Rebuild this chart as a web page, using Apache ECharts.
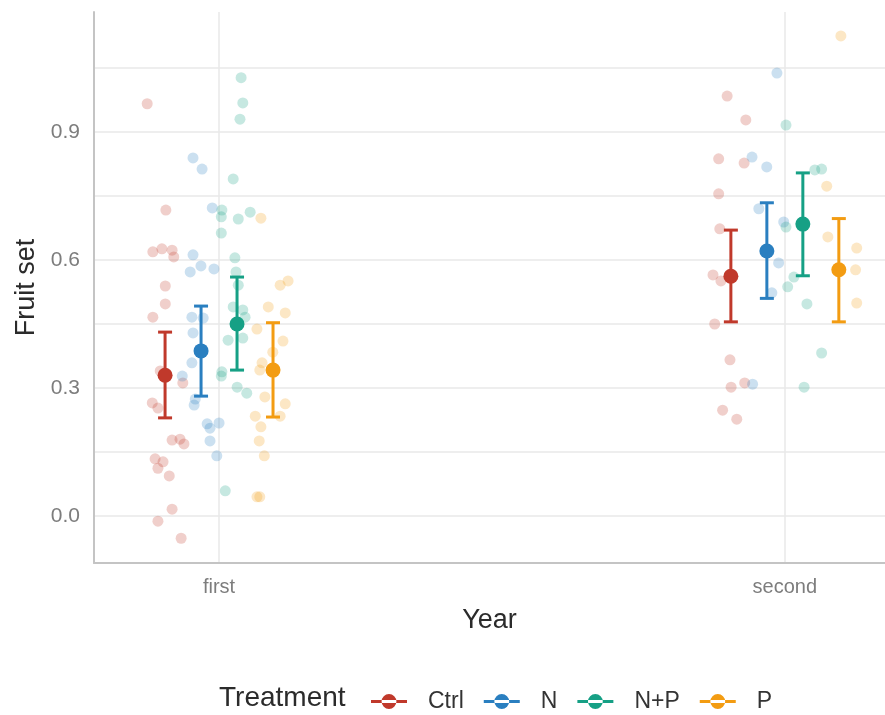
<!DOCTYPE html>
<html>
<head>
<meta charset="utf-8">
<script src="https://cdn.jsdelivr.net/npm/echarts@6/dist/echarts.min.js"></script>
<style>
  html, body { margin: 0; padding: 0; background: #ffffff; }
  #chart { width: 885px; height: 715px; }
</style>
</head>
<body>
<div id="chart"></div>
<script>
// Year categories sit at x = 1 and x = 2 on a numeric axis so that jittered
// observations and dodged treatment summaries can share one scale.
const years = ['first', 'second'];
const treatments = ['Ctrl', 'N', 'N+P', 'P'];
const colors = ['#C0392B', '#2A7FC0', '#16A085', '#F39C12'];

// Raw fruit-set observations per treatment and year, with horizontal jitter
// (offset from the year's centre, in axis units).
const ctrlFirst = [0.966, 0.717, 0.619, 0.626, 0.623, 0.607, 0.539, 0.497, 0.466, 0.340, 0.312, 0.265, 0.253, 0.178, 0.180, 0.169, 0.134, 0.127, 0.112, 0.094, 0.016, -0.012, -0.052];
const ctrlFirstJit = [-0.127, -0.094, -0.117, -0.101, -0.083, -0.080, -0.095, -0.095, -0.117, -0.104, -0.064, -0.118, -0.108, -0.083, -0.069, -0.062, -0.113, -0.099, -0.108, -0.088, -0.083, -0.108, -0.067];
const nFirst = [0.839, 0.813, 0.722, 0.612, 0.586, 0.572, 0.579, 0.466, 0.464, 0.429, 0.359, 0.328, 0.274, 0.260, 0.216, 0.218, 0.206, 0.176, 0.141];
const nFirstJit = [-0.046, -0.030, -0.012, -0.046, -0.032, -0.051, -0.009, -0.048, -0.028, -0.046, -0.048, -0.065, -0.042, -0.044, -0.021, 0.000, -0.016, -0.016, -0.004];
const npFirst = [1.027, 0.968, 0.930, 0.790, 0.717, 0.701, 0.696, 0.712, 0.663, 0.605, 0.572, 0.541, 0.483, 0.466, 0.490, 0.412, 0.417, 0.338, 0.328, 0.302, 0.288, 0.059];
const npFirstJit = [0.039, 0.042, 0.037, 0.025, 0.005, 0.004, 0.034, 0.055, 0.004, 0.028, 0.030, 0.034, 0.042, 0.046, 0.025, 0.016, 0.042, 0.005, 0.004, 0.032, 0.049, 0.011];
const pFirst = [0.698, 0.551, 0.541, 0.490, 0.476, 0.438, 0.410, 0.384, 0.359, 0.342, 0.279, 0.263, 0.234, 0.234, 0.209, 0.176, 0.141, 0.045, 0.045];
const pFirstJit = [0.074, 0.122, 0.108, 0.087, 0.117, 0.067, 0.113, 0.095, 0.076, 0.072, 0.081, 0.117, 0.064, 0.108, 0.074, 0.071, 0.080, 0.067, 0.072];

const ctrlSecond = [0.984, 0.928, 0.837, 0.827, 0.755, 0.673, 0.565, 0.551, 0.450, 0.366, 0.312, 0.302, 0.248, 0.227];
const ctrlSecondJit = [-0.102, -0.069, -0.117, -0.072, -0.117, -0.115, -0.127, -0.113, -0.124, -0.097, -0.071, -0.095, -0.110, -0.085];
const nSecond = [1.038, 0.841, 0.818, 0.720, 0.689, 0.593, 0.523, 0.309];
const nSecondJit = [-0.014, -0.058, -0.032, -0.046, -0.002, -0.011, -0.023, -0.057];
const npSecond = [0.916, 0.811, 0.813, 0.677, 0.560, 0.537, 0.497, 0.382, 0.302];
const npSecondJit = [0.002, 0.053, 0.065, 0.002, 0.016, 0.005, 0.039, 0.065, 0.034];
const pSecond = [1.125, 0.773, 0.654, 0.628, 0.577, 0.499];
const pSecondJit = [0.099, 0.074, 0.076, 0.127, 0.125, 0.127];

// Treatment means with lower / upper error-bar limits, per year.
const meanFirst = [0.330, 0.387, 0.450, 0.342];
const lowFirst = [0.230, 0.281, 0.342, 0.232];
const highFirst = [0.431, 0.492, 0.560, 0.453];
const meanSecond = [0.562, 0.621, 0.684, 0.577];
const lowSecond = [0.455, 0.510, 0.563, 0.455];
const highSecond = [0.670, 0.734, 0.804, 0.697];

const yTicks = [0, 0.3, 0.6, 0.9];
const yGrid = [0, 0.15, 0.3, 0.45, 0.6, 0.75, 0.9, 1.05];

// Horizontal dodge of the four treatment summaries around each year.
const dodge = [-0.0954, -0.0318, 0.0318, 0.0954];

const raw = [
  [[ctrlFirst, ctrlFirstJit], [ctrlSecond, ctrlSecondJit]],
  [[nFirst, nFirstJit], [nSecond, nSecondJit]],
  [[npFirst, npFirstJit], [npSecond, npSecondJit]],
  [[pFirst, pFirstJit], [pSecond, pSecondJit]]
];
const summaries = [
  [meanFirst, lowFirst, highFirst],
  [meanSecond, lowSecond, highSecond]
];

function withAlpha(hex, a) {
  const n = parseInt(hex.slice(1), 16);
  return 'rgba(' + (n >> 16) + ',' + ((n >> 8) & 255) + ',' + (n & 255) + ',' + a + ')';
}

const series = [];

// Jittered observations, drawn underneath.
treatments.forEach(function (t, i) {
  const pts = [];
  raw[i].forEach(function (pair, yi) {
    const vals = pair[0], jit = pair[1];
    vals.forEach(function (v, k) { pts.push([yi + 1 + jit[k], v]); });
  });
  series.push({
    name: t + ' obs',
    type: 'scatter',
    data: pts,
    symbolSize: 11,
    itemStyle: { color: withAlpha(colors[i], 0.3) },
    z: 2,
    silent: true
  });
});

// Mean point with error bar, dodged by treatment.
treatments.forEach(function (t, i) {
  const data = summaries.map(function (s, yi) {
    return [yi + 1 + dodge[i], s[0][i], s[1][i], s[2][i]];
  });
  const col = colors[i];
  series.push({
    name: t,
    type: 'custom',
    data: data,
    encode: { x: 0, y: [1, 2, 3] },
    itemStyle: { color: col },
    z: 5,
    renderItem: function (params, api) {
      const x = api.value(0);
      const pm = api.coord([x, api.value(1)]);
      const pl = api.coord([x, api.value(2)]);
      const ph = api.coord([x, api.value(3)]);
      const hw = 7;
      const st = { stroke: col, lineWidth: 3, fill: null };
      return {
        type: 'group',
        children: [
          { type: 'line', shape: { x1: pl[0], y1: pl[1], x2: ph[0], y2: ph[1] }, style: st },
          { type: 'line', shape: { x1: pl[0] - hw, y1: pl[1], x2: pl[0] + hw, y2: pl[1] }, style: st },
          { type: 'line', shape: { x1: ph[0] - hw, y1: ph[1], x2: ph[0] + hw, y2: ph[1] }, style: st },
          { type: 'circle', shape: { cx: pm[0], cy: pm[1], r: 7.5 }, style: { fill: col } }
        ]
      };
    }
  });
});

const legendIcon = 'path://M0,6.2h34v2.6h-34z M10,7.5a7,7 0 1,0 14,0a7,7 0 1,0 -14,0z';

const chart = echarts.init(document.getElementById('chart'), null, { renderer: 'canvas' });
chart.setOption({
  backgroundColor: '#ffffff',
  animation: false,
  textStyle: { fontFamily: 'Liberation Sans, Arial, sans-serif' },
  grid: { left: 94, right: 0, top: 12, bottom: 152, containLabel: false },
  xAxis: {
    type: 'value',
    min: 0.779,
    max: 2.177,
    name: 'Year',
    nameLocation: 'middle',
    nameGap: 44,
    nameTextStyle: { fontSize: 27, color: '#2b2b2b' },
    axisLine: { show: true, onZero: false, lineStyle: { color: '#c4c4c4', width: 2 } },
    axisTick: { show: false, customValues: [1, 2] },
    axisLabel: {
      customValues: [1, 2],
      formatter: function (v) { return years[Math.round(v) - 1]; },
      fontSize: 20,
      color: '#7d7d7d',
      margin: 14
    },
    splitLine: { show: true, lineStyle: { color: '#e8e8e8', width: 1.5 } }
  },
  yAxis: {
    type: 'value',
    min: -0.110,
    max: 1.181,
    name: 'Fruit set',
    nameLocation: 'middle',
    nameGap: 54,
    nameTextStyle: { fontSize: 27, color: '#2b2b2b' },
    axisLine: { show: true, onZero: false, lineStyle: { color: '#c4c4c4', width: 2 } },
    axisTick: { show: false, customValues: yGrid },
    axisLabel: {
      customValues: yTicks,
      formatter: function (v) { return v.toFixed(1); },
      fontSize: 21,
      color: '#7d7d7d',
      margin: 14
    },
    splitLine: { show: true, lineStyle: { color: '#e8e8e8', width: 1.5 } }
  },
  legend: {
    left: 366,
    top: 685,
    orient: 'horizontal',
    icon: legendIcon,
    itemWidth: 36,
    itemHeight: 15,
    itemGap: 20,
    textStyle: { fontSize: 23, color: '#333333', padding: [0, 0, 0, 16] },
    selectedMode: false,
    data: treatments.map(function (t, i) {
      return { name: t, itemStyle: { color: colors[i] } };
    })
  },
  graphic: [{
    type: 'text',
    left: 219,
    top: 684,
    style: { text: 'Treatment', fontSize: 28, fill: '#2b2b2b', fontFamily: 'Liberation Sans, Arial, sans-serif' }
  }],
  series: series
});
</script>
</body>
</html>
